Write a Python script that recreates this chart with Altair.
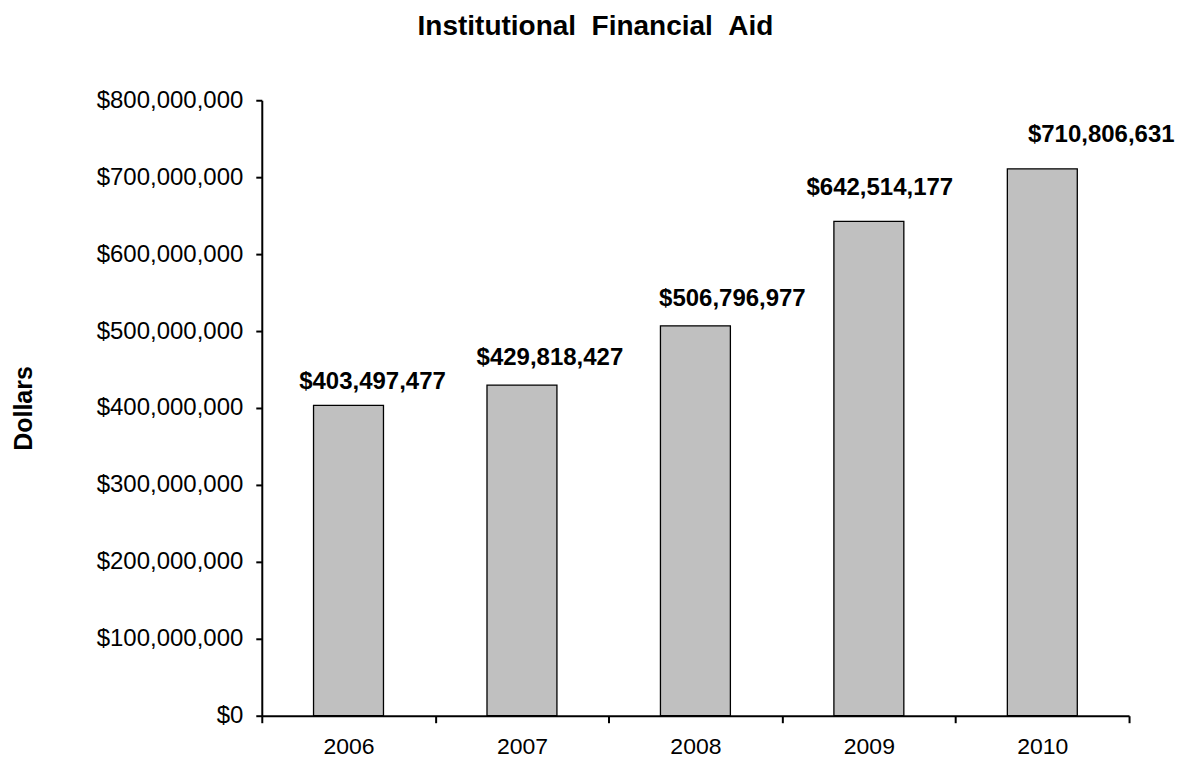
import altair as alt
import pandas as pd

years = ["2006", "2007", "2008", "2009", "2010"]
aid = [403497477, 429818427, 506796977, 642514177, 710806631]
y_ticks = [0, 100000000, 200000000, 300000000, 400000000, 500000000, 600000000, 700000000, 800000000]

df = pd.DataFrame({"year": years, "aid": aid})

FONT = "Liberation Sans"

x_enc = alt.X("year:N", sort=years, title=None,
              scale=alt.Scale(paddingInner=0, paddingOuter=0),
              axis=alt.Axis(labelAngle=0, tickBand="extent", tickSize=7, labelPadding=13,
                            labelFontSize=23, labelFont=FONT, labelColor="black",
                            domainWidth=2, tickWidth=2, domainColor="black", tickColor="black",
                            grid=False))
y_enc = alt.Y("aid:Q", title="Dollars",
              scale=alt.Scale(domain=[0, 800000000], nice=False),
              axis=alt.Axis(values=y_ticks, format="$,.0f", tickSize=6, labelPadding=13,
                            labelFontSize=24, labelFont=FONT, labelColor="black",
                            titleFontSize=25, titleFontWeight="bold", titleFont=FONT,
                            titleColor="black", titlePadding=60,
                            domainWidth=2, tickWidth=2, domainColor="black", tickColor="black",
                            grid=False))

base = alt.Chart(df)

bars = base.mark_bar(size=70, color="#C0C0C0", stroke="black", strokeWidth=1.3).encode(
    x=x_enc, y=y_enc
)

# Excel-style manually nudged label positions (offsets per label)
offsets = {"2006": (24, -16), "2007": (28, -20), "2008": (37, -20), "2009": (11, -26), "2010": (59, -27)}
label_layers = []
for yr in years:
    dx, dy = offsets[yr]
    label_layers.append(
        base.transform_filter(alt.datum.year == yr).mark_text(
            dx=dx, dy=dy, fontSize=24, fontWeight="bold", font=FONT,
            align="center", baseline="alphabetic", color="black"
        ).encode(x=alt.X("year:N", sort=years), y=alt.Y("aid:Q"), text=alt.Text("aid:Q", format="$,.0f"))
    )

chart = alt.layer(bars, *label_layers).properties(
    width=868, height=616,
    title=alt.TitleParams("Institutional\u00a0\u00a0Financial\u00a0\u00a0Aid", fontSize=28,
                          fontWeight="bold", font=FONT, color="black", offset=47, dx=-100),
    padding={"left": 254, "top": 92, "right": 50, "bottom": 43},
    autosize="none",
).configure_view(stroke=None)

chart.save("out.html", embed_options={"renderer": "svg", "actions": False})
